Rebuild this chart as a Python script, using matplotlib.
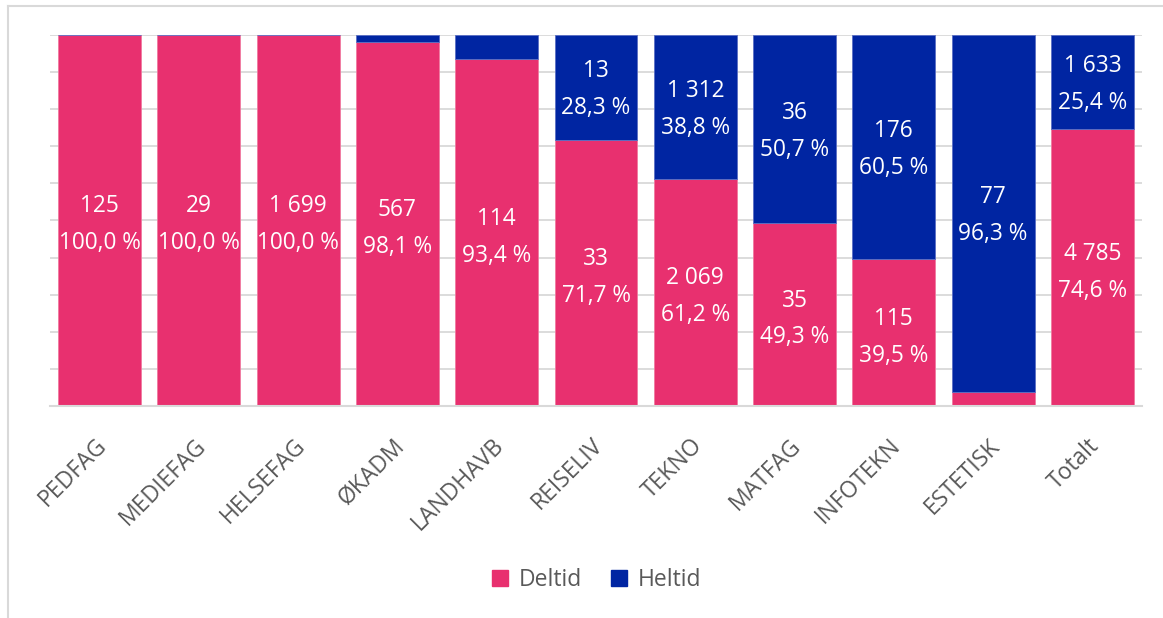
import matplotlib.pyplot as plt
import matplotlib.transforms as mtransforms
from matplotlib.lines import Line2D
from matplotlib.patches import Patch
from decimal import Decimal, ROUND_HALF_UP

plt.rcParams['font.family'] = ['Open Sans', 'DejaVu Sans']

categories = ['PEDFAG', 'MEDIEFAG', 'HELSEFAG', 'ØKADM', 'LANDHAVB', 'REISELIV',
              'TEKNO', 'MATFAG', 'INFOTEKN', 'ESTETISK', 'Totalt']
deltid = [125, 29, 1699, 567, 114, 33, 2069, 35, 115, 3, 4785]
heltid = [0, 0, 0, 11, 8, 13, 1312, 36, 176, 77, 1633]

pink = '#E8306F'
blue = '#0025A2'
grid_col = '#D9D9D9'
text_col = '#595959'


def fmt_count(v):
    return f'{v:,}'.replace(',', '\u00a0')


def fmt_pct(part, total):
    # excel style rounding (half up)
    p = (Decimal(part) * 100 / Decimal(total)).quantize(Decimal('0.1'), rounding=ROUND_HALF_UP)
    return f'{p} %'.replace('.', ',')


fig = plt.figure(figsize=(11.63, 6.18), dpi=100)
ax = fig.add_axes([0.043, 0.343, 0.939, 0.6005])

totals = [d + h for d, h in zip(deltid, heltid)]
d_share = [d / t * 100 for d, t in zip(deltid, totals)]
h_share = [h / t * 100 for h, t in zip(heltid, totals)]
x = list(range(len(categories)))

ax.bar(x, d_share, width=0.835, color=pink, edgecolor='#F07AA0', linewidth=0.6, zorder=2)
ax.bar(x, h_share, bottom=d_share, width=0.835, color=blue, edgecolor='#5A6FC4',
       linewidth=0.6, zorder=2)

# data labels, only where the segment has room
for i in x:
    if d_share[i] >= 10:
        ax.text(i, d_share[i] / 2 - 1.2, f'{fmt_count(deltid[i])}\n{fmt_pct(deltid[i], totals[i])}',
                ha='center', va='center', color='white', fontsize=16.3,
                linespacing=1.72, zorder=3)
    if h_share[i] >= 10:
        ax.text(i, d_share[i] + h_share[i] / 2 - 0.6,
                f'{fmt_count(heltid[i])}\n{fmt_pct(heltid[i], totals[i])}',
                ha='center', va='center', color='white', fontsize=16.3,
                linespacing=1.72, zorder=3)

ax.set_xlim(-0.5, len(categories) - 0.5)
ax.set_ylim(0, 100)
ax.set_yticks(range(0, 101, 10))
ax.set_yticklabels([])
ax.tick_params(axis='y', length=0)
ax.yaxis.grid(True, color=grid_col, linewidth=1.3, zorder=0)
ax.set_axisbelow(True)

ax.set_xticks(x)
ax.set_xticklabels(categories, rotation=45, ha='right', rotation_mode='anchor',
                   fontsize=16.5, color=text_col)
ax.tick_params(axis='x', length=0, pad=20)
shift = mtransforms.ScaledTranslation(-5 / 100, 0, fig.dpi_scale_trans)
for lbl in ax.get_xticklabels():
    lbl.set_transform(lbl.get_transform() + shift)

for s in ['top', 'right', 'left']:
    ax.spines[s].set_visible(False)
ax.spines['bottom'].set_color(grid_col)
ax.spines['bottom'].set_linewidth(1.5)

handles = [Patch(color=pink, label='Deltid'), Patch(color=blue, label='Heltid')]
fig.legend(handles=handles, loc='center', bbox_to_anchor=(0.513, 0.062), ncol=2,
           frameon=False, fontsize=16.5, labelcolor=text_col, handlelength=0.7,
           handleheight=0.7, handletextpad=0.45, columnspacing=1.3)

# outer frame of the chart area
fig.add_artist(Line2D([8 / 1163, 8 / 1163], [0, 1 - 6 / 618], transform=fig.transFigure,
                      color=grid_col, linewidth=1.5))
fig.add_artist(Line2D([8 / 1163, 1], [1 - 6 / 618, 1 - 6 / 618], transform=fig.transFigure,
                      color=grid_col, linewidth=1.5))

fig.savefig('out.png', dpi=100)
